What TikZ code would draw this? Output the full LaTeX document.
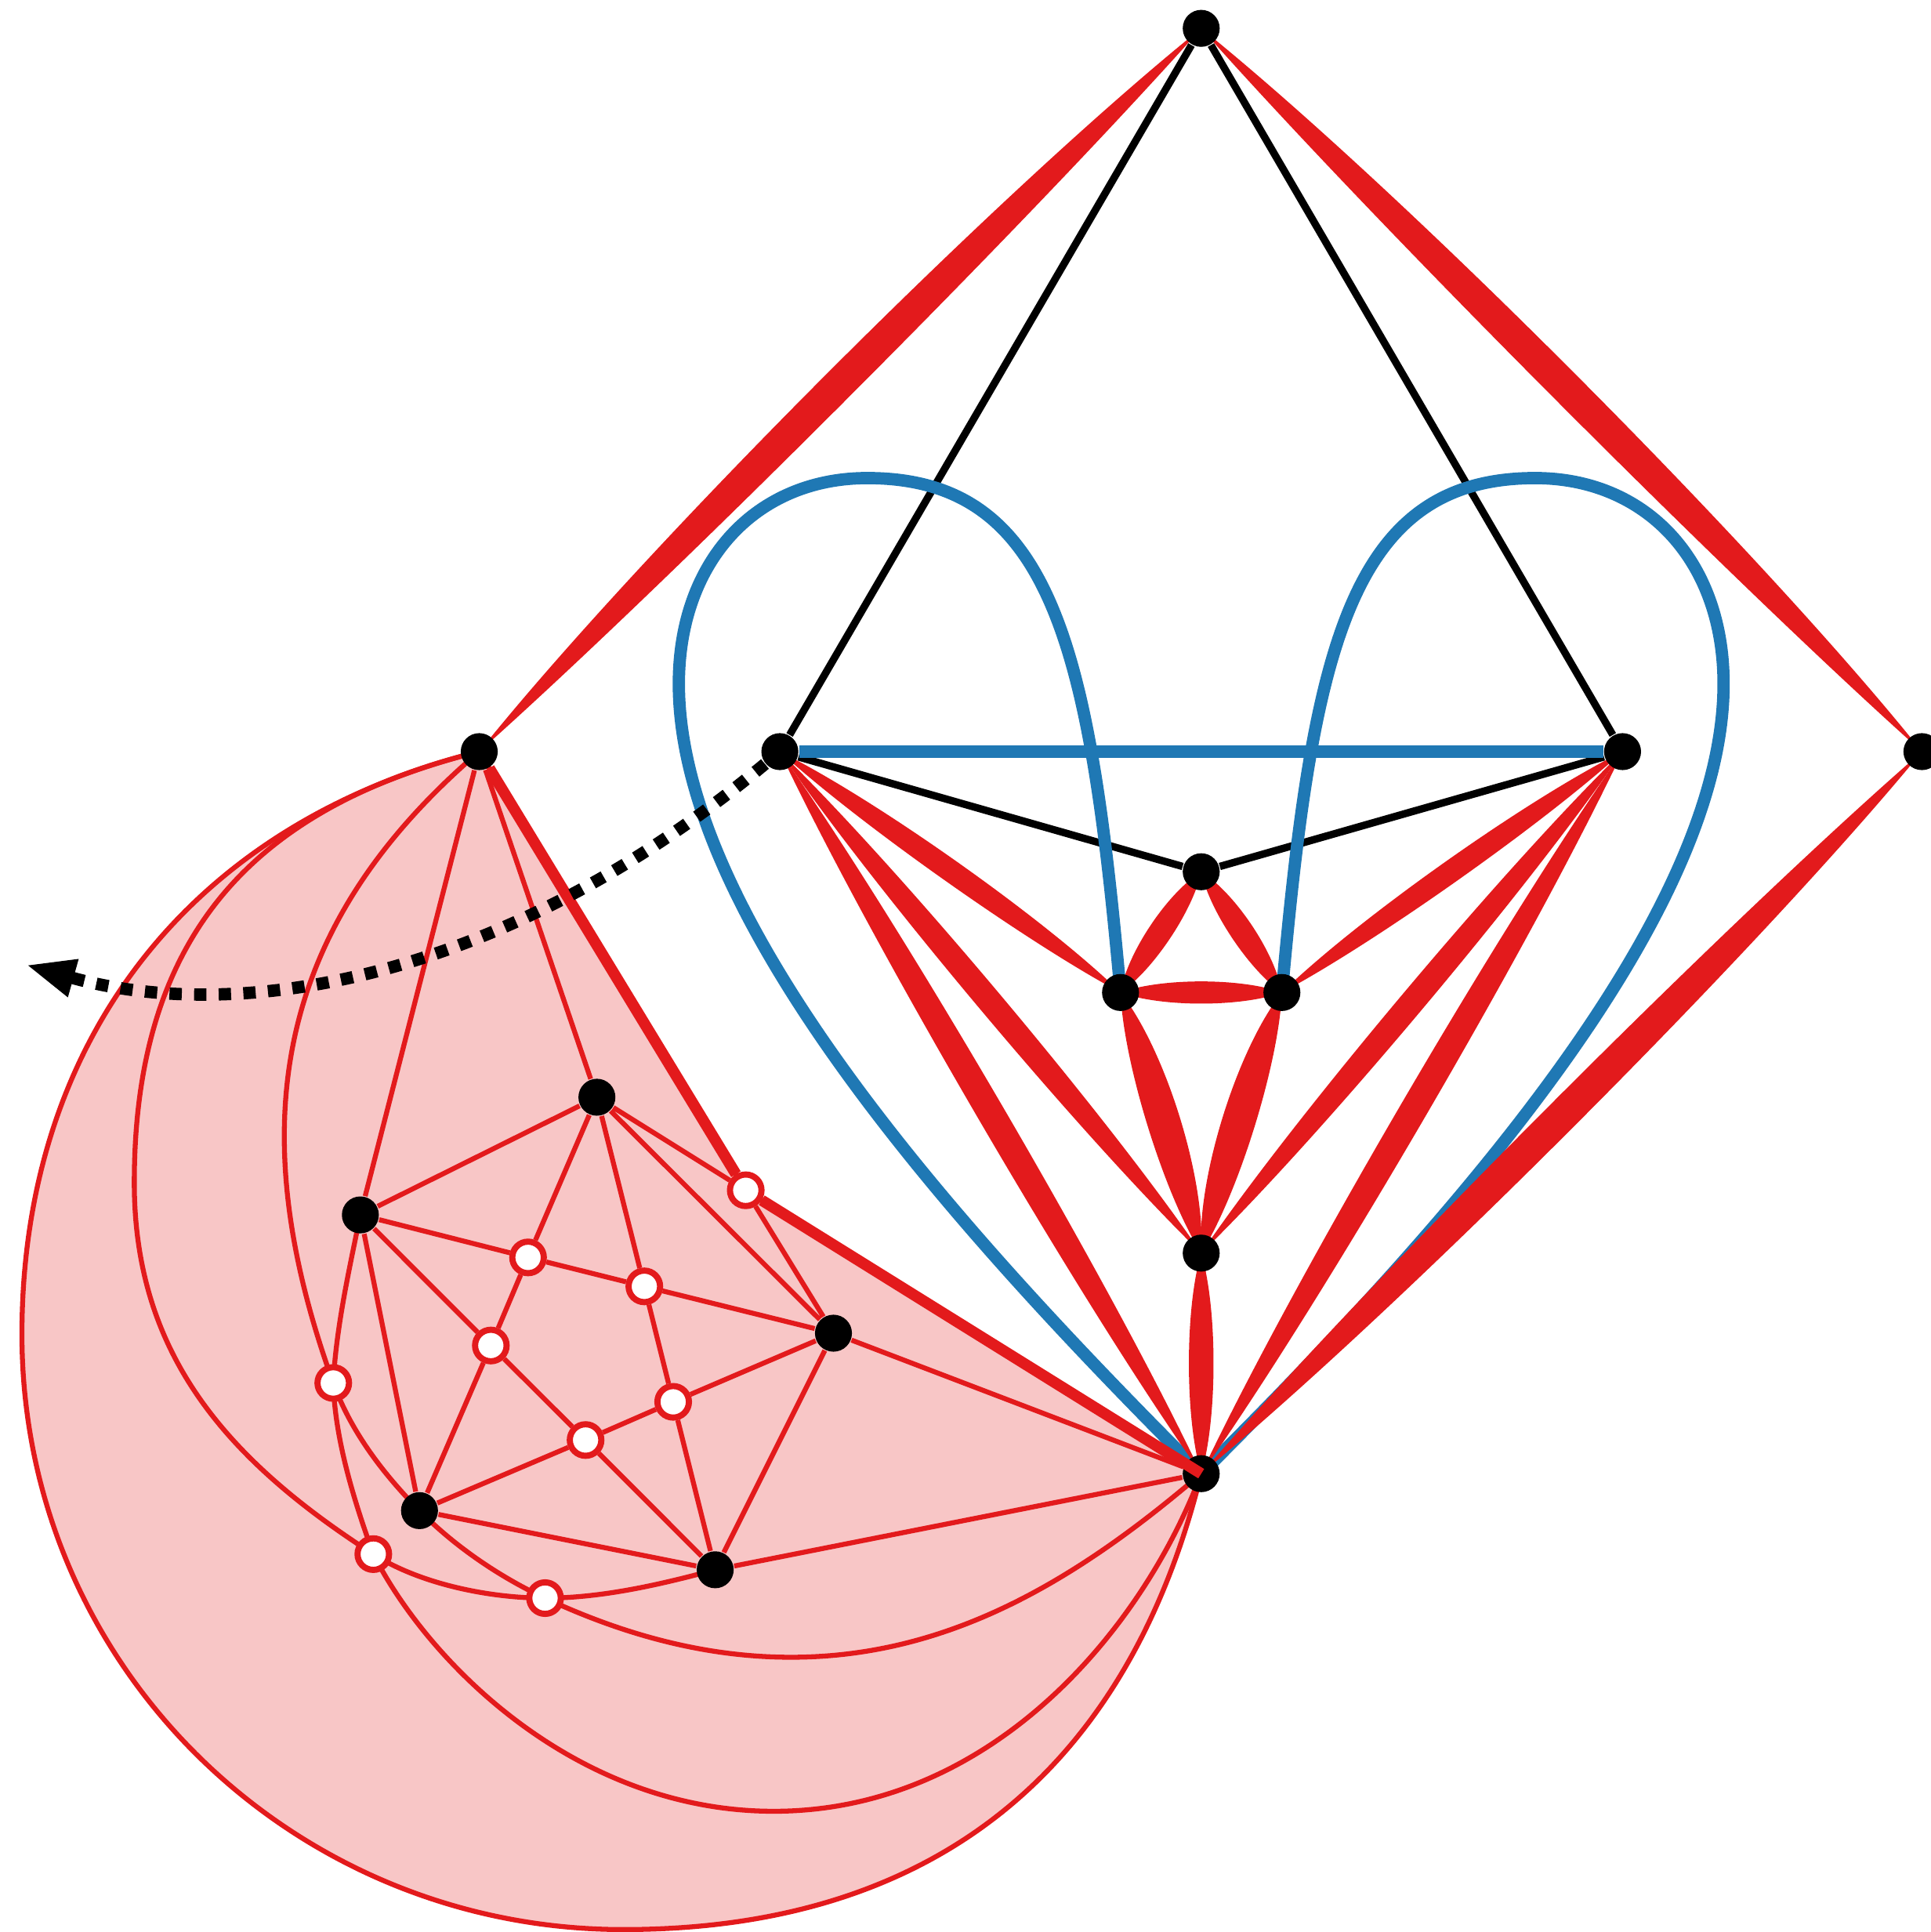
\documentclass[tikz,border=0pt]{standalone}
\usetikzlibrary{calc,arrows.meta}
\definecolor{cred}{RGB}{227,26,28}
\definecolor{cblue}{RGB}{31,120,180}
\definecolor{cpink}{RGB}{248,198,198}
\pgfdeclarelayer{back}
\pgfsetlayers{back,main}
\tikzset{
  bnode/.style={circle, fill=black, inner sep=0pt, minimum size=3mm},
  hnode/.style={circle, fill=white, draw=cred, line width=0.5mm, inner sep=0pt, minimum size=2.56mm},
  thinred/.style={draw=cred, line width=0.4mm},
  thickred/.style={draw=cred, line width=0.9mm},
  blackedge/.style={draw=black, line width=0.6mm},
  blueedge/.style={draw=cblue, line width=1mm},
  dotarrow/.style={draw=black, line width=1mm, dash pattern=on 1mm off 1mm, -{Triangle[length=4mm,width=2.9mm]}},
}
\newcommand\lensedge[4]{%
  \pgfmathsetmacro\lensa{#3/7.5}%
  \pgfmathsetmacro\lensb{#4/7.5}%
  \fill[cred] (#1.center)
    .. controls ($(#1.center)!0.25!(#2.center)!\lensa mm!90:(#2.center)$)
       and ($(#1.center)!0.75!(#2.center)!\lensa mm!90:(#2.center)$) .. (#2.center)
    .. controls ($(#1.center)!0.75!(#2.center)!\lensb mm!-90:(#2.center)$)
       and ($(#1.center)!0.25!(#2.center)!\lensb mm!-90:(#2.center)$) .. (#1.center) -- cycle;}
\begin{document}
\begin{tikzpicture}[x=0.1mm, y=-0.1mm]
\useasboundingbox (0,0) rectangle (1567,1568);
% main graph nodes
\node[bnode] (T) at (975,23) {};
\node[bnode] (R) at (1560,610) {};
\node[bnode] (L1) at (389,610) {};
\node[bnode] (A) at (633,610) {};
\node[bnode] (C) at (1317,610) {};
\node[bnode] (D) at (975,707.5) {};
\node[bnode] (E) at (909.5,805.5) {};
\node[bnode] (F) at (1040.5,805.5) {};
\node[bnode] (G) at (975,1017) {};
\node[bnode] (B) at (975,1196) {};
% cluster nodes
\node[bnode] (N1) at (484.5,890.5) {};
\node[bnode] (N2) at (292.5,986) {};
\node[bnode] (N3) at (676.5,1082) {};
\node[bnode] (N4) at (340.5,1226) {};
\node[bnode] (N5) at (580.5,1274) {};
\node[hnode] (h1) at (605.3,966) {};
\node[hnode] (h2) at (428.6,1020.5) {};
\node[hnode] (h3) at (523,1044) {};
\node[hnode] (h4) at (398.4,1092) {};
\node[hnode] (h5) at (546.4,1137.7) {};
\node[hnode] (h6) at (475.3,1168.7) {};
\node[hnode] (h7) at (270.5,1122.4) {};
\node[hnode] (h8) at (303,1261.3) {};
\node[hnode] (h9) at (442.4,1297) {};
\coordinate (tip) at (21,783);

\begin{pgfonlayer}{back}
% pink region with outer boundary
\filldraw[fill=cpink, thinred] (L1.center) .. controls (156.2,667.6) and (17.8,843) .. (17.8,1083)
  .. controls (17.8,1352) and (237,1566) .. (506,1566)
  .. controls (756,1566) and (915,1438.5) .. (B.center) -- (h1.center) -- cycle;
% curves
\draw[thinred] (L1.center) .. controls (221.8,753) and (195.7,915.6) .. (h7.center)
  .. controls (284.8,1161.9) and (311.1,1196.2) .. (N4.center)
  .. controls (369.2,1255.1) and (405.5,1279.8) .. (h9.center)
  .. controls (505.4,1326.4) and (572,1345) .. (642,1345)
  .. controls (772,1345) and (876.2,1280.5) .. (B.center);
\draw[thinred] (L1.center) .. controls (195,658) and (109,770) .. (109,960)
  .. controls (109,1100) and (185.4,1185.7) .. (h8.center)
  .. controls (340.8,1285.6) and (397.4,1297) .. (h9.center)
  .. controls (488.4,1297) and (536.1,1286) .. (N5.center);
\draw[thinred] (N2.center) .. controls (283.5,1030) and (272.8,1077.4) .. (h7.center)
  .. controls (271.9,1168.4) and (287.4,1218.1) .. (h8.center)
  .. controls (348,1350) and (468,1470) .. (628,1470)
  .. controls (808,1470) and (929.5,1318) .. (B.center);
% straight cluster edges
\draw[thinred] (L1) -- (N2) (L1) -- (N1) (N1) -- (N2) (N1) -- (h2) (N1) -- (h3)
  (N1) -- (N3) (N1) -- (h1) (h1) -- (N3) (N2) -- (h2) (h2) -- (h3) (h3) -- (N3)
  (N2) -- (h4) (h2) -- (h4) (h4) -- (h6) (h3) -- (h5) (h5) -- (N3) (h5) -- (h6)
  (h6) -- (N4) (h4) -- (N4) (h6) -- (N5) (h5) -- (N5) (N3) -- (N5) (N3) -- (B)
  (N4) -- (N5) (N5) -- (B) (N2) -- (N4);
\draw[thickred] (L1) -- (h1);
% black edges
\draw[blackedge] (T) -- (A) (T) -- (C) (A) -- (D) (C) -- (D);
% blue edges
\draw[blueedge] (A) -- (C);
\draw[blueedge] (E.center) .. controls (884.6,526) and (854,388) .. (704,388)
  .. controls (614,388) and (551,455) .. (551,555)
  .. controls (551,755) and (798,1019) .. (B.center);
\draw[blueedge] (F.center) .. controls (1065.4,526) and (1096,388) .. (1246,388)
  .. controls (1336,388) and (1399,455) .. (1399,555)
  .. controls (1399,755) and (1152,1019) .. (B.center);
% red lens edges
\lensedge{T}{L1}{9}{17}
\lensedge{T}{R}{17}{9}
\lensedge{R}{B}{15}{11}
\lensedge{A}{E}{10}{8}
\lensedge{A}{G}{10}{10}
\lensedge{A}{B}{11}{11}
\lensedge{C}{F}{8}{10}
\lensedge{C}{G}{10}{10}
\lensedge{C}{B}{11}{11}
\lensedge{D}{E}{9}{10}
\lensedge{D}{F}{10}{9}
\lensedge{E}{F}{9}{9}
\lensedge{E}{G}{16}{11}
\lensedge{F}{G}{11}{16}
\lensedge{G}{B}{10}{10}
\end{pgfonlayer}

\draw[thickred] (h1) -- (B.center);
\draw[dotarrow] (A) .. controls (410,795) and (195,832) .. (tip);
\end{tikzpicture}
\end{document}
